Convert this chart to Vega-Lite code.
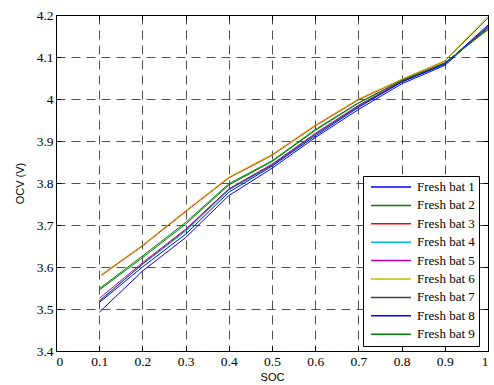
{
  "$schema": "https://vega.github.io/schema/vega-lite/v6.json",
  "width": 432,
  "height": 336,
  "autosize": {"type": "none"},
  "padding": {"left": 56, "top": 15, "right": 6, "bottom": 34},
  "background": "white",
  "config": {
    "view": {"stroke": null},
    "style": {
      "guide-label": {"font": "Liberation Serif", "fontSize": 13.5, "fill": "black"},
      "guide-title": {"font": "Liberation Sans", "fontSize": 11, "fontWeight": "normal", "fill": "black"}
    },
    "axis": {
      "domainColor": "black",
      "domainWidth": 1,
      "tickColor": "black",
      "tickSize": -5,
      "labelPadding": 8,
      "labelFont": "Liberation Serif",
      "labelFontSize": 13.5,
      "labelColor": "black",
      "titleFont": "Liberation Sans",
      "titleFontSize": 11,
      "titleFontWeight": "normal",
      "titleColor": "black",
      "gridColor": "#333",
      "gridDash": [9, 6],
      "gridWidth": 1,
      "gridOpacity": 0.85
    },
    "legend": {
      "orient": "none",
      "legendX": 307,
      "legendY": 161,
      "fillColor": "white",
      "strokeColor": "black",
      "strokeWidth": 1,
      "padding": 4,
      "cornerRadius": 0,
      "symbolType": "stroke",
      "symbolSize": 1600,
      "symbolStrokeWidth": 1.5,
      "symbolOffset": 3,
      "clipHeight": 14,
      "rowPadding": 4.4,
      "labelOffset": 5,
      "labelFont": "Liberation Serif",
      "labelFontSize": 13,
      "labelColor": "black",
      "labelLimit": 200
    }
  },
  "data": {
    "values": [
      {"bat": "Fresh bat 1", "soc": 0.1, "ocv": 3.492}, {"bat": "Fresh bat 1", "soc": 0.2, "ocv": 3.590}, {"bat": "Fresh bat 1", "soc": 0.3, "ocv": 3.670}, {"bat": "Fresh bat 1", "soc": 0.4, "ocv": 3.770}, {"bat": "Fresh bat 1", "soc": 0.5, "ocv": 3.835}, {"bat": "Fresh bat 1", "soc": 0.6, "ocv": 3.908}, {"bat": "Fresh bat 1", "soc": 0.7, "ocv": 3.975}, {"bat": "Fresh bat 1", "soc": 0.8, "ocv": 4.036}, {"bat": "Fresh bat 1", "soc": 0.9, "ocv": 4.080}, {"bat": "Fresh bat 1", "soc": 1.0, "ocv": 4.172},
      {"bat": "Fresh bat 2", "soc": 0.1, "ocv": 3.545}, {"bat": "Fresh bat 2", "soc": 0.2, "ocv": 3.622}, {"bat": "Fresh bat 2", "soc": 0.3, "ocv": 3.702}, {"bat": "Fresh bat 2", "soc": 0.4, "ocv": 3.795}, {"bat": "Fresh bat 2", "soc": 0.5, "ocv": 3.851}, {"bat": "Fresh bat 2", "soc": 0.6, "ocv": 3.925}, {"bat": "Fresh bat 2", "soc": 0.7, "ocv": 3.990}, {"bat": "Fresh bat 2", "soc": 0.8, "ocv": 4.043}, {"bat": "Fresh bat 2", "soc": 0.9, "ocv": 4.086}, {"bat": "Fresh bat 2", "soc": 1.0, "ocv": 4.165},
      {"bat": "Fresh bat 3", "soc": 0.105, "ocv": 3.580}, {"bat": "Fresh bat 3", "soc": 0.2, "ocv": 3.650}, {"bat": "Fresh bat 3", "soc": 0.3, "ocv": 3.732}, {"bat": "Fresh bat 3", "soc": 0.4, "ocv": 3.812}, {"bat": "Fresh bat 3", "soc": 0.5, "ocv": 3.866}, {"bat": "Fresh bat 3", "soc": 0.6, "ocv": 3.936}, {"bat": "Fresh bat 3", "soc": 0.7, "ocv": 3.998}, {"bat": "Fresh bat 3", "soc": 0.8, "ocv": 4.046}, {"bat": "Fresh bat 3", "soc": 0.9, "ocv": 4.090}, {"bat": "Fresh bat 3", "soc": 1.0, "ocv": 4.193},
      {"bat": "Fresh bat 4", "soc": 0.1, "ocv": 3.520}, {"bat": "Fresh bat 4", "soc": 0.2, "ocv": 3.606}, {"bat": "Fresh bat 4", "soc": 0.3, "ocv": 3.685}, {"bat": "Fresh bat 4", "soc": 0.4, "ocv": 3.783}, {"bat": "Fresh bat 4", "soc": 0.5, "ocv": 3.842}, {"bat": "Fresh bat 4", "soc": 0.6, "ocv": 3.915}, {"bat": "Fresh bat 4", "soc": 0.7, "ocv": 3.982}, {"bat": "Fresh bat 4", "soc": 0.8, "ocv": 4.041}, {"bat": "Fresh bat 4", "soc": 0.9, "ocv": 4.083}, {"bat": "Fresh bat 4", "soc": 1.0, "ocv": 4.173},
      {"bat": "Fresh bat 5", "soc": 0.1, "ocv": 3.525}, {"bat": "Fresh bat 5", "soc": 0.2, "ocv": 3.610}, {"bat": "Fresh bat 5", "soc": 0.3, "ocv": 3.690}, {"bat": "Fresh bat 5", "soc": 0.4, "ocv": 3.786}, {"bat": "Fresh bat 5", "soc": 0.5, "ocv": 3.845}, {"bat": "Fresh bat 5", "soc": 0.6, "ocv": 3.918}, {"bat": "Fresh bat 5", "soc": 0.7, "ocv": 3.985}, {"bat": "Fresh bat 5", "soc": 0.8, "ocv": 4.042}, {"bat": "Fresh bat 5", "soc": 0.9, "ocv": 4.084}, {"bat": "Fresh bat 5", "soc": 1.0, "ocv": 4.172},
      {"bat": "Fresh bat 6", "soc": 0.105, "ocv": 3.582}, {"bat": "Fresh bat 6", "soc": 0.2, "ocv": 3.652}, {"bat": "Fresh bat 6", "soc": 0.3, "ocv": 3.734}, {"bat": "Fresh bat 6", "soc": 0.4, "ocv": 3.814}, {"bat": "Fresh bat 6", "soc": 0.5, "ocv": 3.868}, {"bat": "Fresh bat 6", "soc": 0.6, "ocv": 3.938}, {"bat": "Fresh bat 6", "soc": 0.7, "ocv": 4.000}, {"bat": "Fresh bat 6", "soc": 0.8, "ocv": 4.047}, {"bat": "Fresh bat 6", "soc": 0.9, "ocv": 4.091}, {"bat": "Fresh bat 6", "soc": 1.0, "ocv": 4.197},
      {"bat": "Fresh bat 7", "soc": 0.1, "ocv": 3.518}, {"bat": "Fresh bat 7", "soc": 0.2, "ocv": 3.607}, {"bat": "Fresh bat 7", "soc": 0.3, "ocv": 3.688}, {"bat": "Fresh bat 7", "soc": 0.4, "ocv": 3.785}, {"bat": "Fresh bat 7", "soc": 0.5, "ocv": 3.843}, {"bat": "Fresh bat 7", "soc": 0.6, "ocv": 3.916}, {"bat": "Fresh bat 7", "soc": 0.7, "ocv": 3.983}, {"bat": "Fresh bat 7", "soc": 0.8, "ocv": 4.041}, {"bat": "Fresh bat 7", "soc": 0.9, "ocv": 4.084}, {"bat": "Fresh bat 7", "soc": 1.0, "ocv": 4.170},
      {"bat": "Fresh bat 8", "soc": 0.1, "ocv": 3.515}, {"bat": "Fresh bat 8", "soc": 0.2, "ocv": 3.600}, {"bat": "Fresh bat 8", "soc": 0.3, "ocv": 3.678}, {"bat": "Fresh bat 8", "soc": 0.4, "ocv": 3.778}, {"bat": "Fresh bat 8", "soc": 0.5, "ocv": 3.840}, {"bat": "Fresh bat 8", "soc": 0.6, "ocv": 3.912}, {"bat": "Fresh bat 8", "soc": 0.7, "ocv": 3.980}, {"bat": "Fresh bat 8", "soc": 0.8, "ocv": 4.040}, {"bat": "Fresh bat 8", "soc": 0.9, "ocv": 4.083}, {"bat": "Fresh bat 8", "soc": 1.0, "ocv": 4.176},
      {"bat": "Fresh bat 9", "soc": 0.1, "ocv": 3.548}, {"bat": "Fresh bat 9", "soc": 0.2, "ocv": 3.626}, {"bat": "Fresh bat 9", "soc": 0.3, "ocv": 3.706}, {"bat": "Fresh bat 9", "soc": 0.4, "ocv": 3.798}, {"bat": "Fresh bat 9", "soc": 0.5, "ocv": 3.853}, {"bat": "Fresh bat 9", "soc": 0.6, "ocv": 3.927}, {"bat": "Fresh bat 9", "soc": 0.7, "ocv": 3.991}, {"bat": "Fresh bat 9", "soc": 0.8, "ocv": 4.044}, {"bat": "Fresh bat 9", "soc": 0.9, "ocv": 4.086}, {"bat": "Fresh bat 9", "soc": 1.0, "ocv": 4.167}
    ]
  },
  "layer": [
    {
      "mark": {"type": "line", "strokeWidth": 1, "clip": true},
      "encoding": {
        "x": {
          "field": "soc", "type": "quantitative",
          "scale": {"domain": [0, 1], "nice": false, "zero": false},
          "axis": {"title": "SOC", "orient": "bottom", "grid": true, "values": [0, 0.1, 0.2, 0.3, 0.4, 0.5, 0.6, 0.7, 0.8, 0.9, 1], "format": "~g", "titlePadding": 4, "labelFont": "Liberation Serif", "labelFontSize": 13.5, "titleFont": "Liberation Sans", "titleFontSize": 11}
        },
        "y": {
          "field": "ocv", "type": "quantitative",
          "scale": {"domain": [3.4, 4.2], "nice": false, "zero": false},
          "axis": {"title": "OCV (V)", "orient": "left", "grid": true, "values": [3.4, 3.5, 3.6, 3.7, 3.8, 3.9, 4, 4.1, 4.2], "format": "~g", "titlePadding": 11, "labelFont": "Liberation Serif", "labelFontSize": 13.5, "titleFont": "Liberation Sans", "titleFontSize": 11}
        },
        "color": {
          "field": "bat", "type": "nominal",
          "scale": {
            "domain": ["Fresh bat 1", "Fresh bat 2", "Fresh bat 3", "Fresh bat 4", "Fresh bat 5", "Fresh bat 6", "Fresh bat 7", "Fresh bat 8", "Fresh bat 9"],
            "range": ["#0000FF", "#008000", "#FF0000", "#00BFBF", "#BF00BF", "#BFBF00", "#404040", "#0000FF", "#008000"]
          },
          "legend": {"title": null}
        },
        "order": {"field": "soc", "type": "quantitative"}
      }
    },
    {
      "mark": {"type": "point", "opacity": 0},
      "encoding": {
        "x": {
          "field": "soc", "type": "quantitative",
          "scale": {"domain": [0, 1], "nice": false, "zero": false},
          "axis": {"title": null, "orient": "top", "grid": false, "labels": false, "values": [0, 0.1, 0.2, 0.3, 0.4, 0.5, 0.6, 0.7, 0.8, 0.9, 1]}
        },
        "y": {
          "field": "ocv", "type": "quantitative",
          "scale": {"domain": [3.4, 4.2], "nice": false, "zero": false},
          "axis": {"title": null, "orient": "right", "grid": false, "labels": false, "values": [3.4, 3.5, 3.6, 3.7, 3.8, 3.9, 4, 4.1, 4.2]}
        }
      }
    }
  ],
  "resolve": {"axis": {"x": "independent", "y": "independent"}}
}
